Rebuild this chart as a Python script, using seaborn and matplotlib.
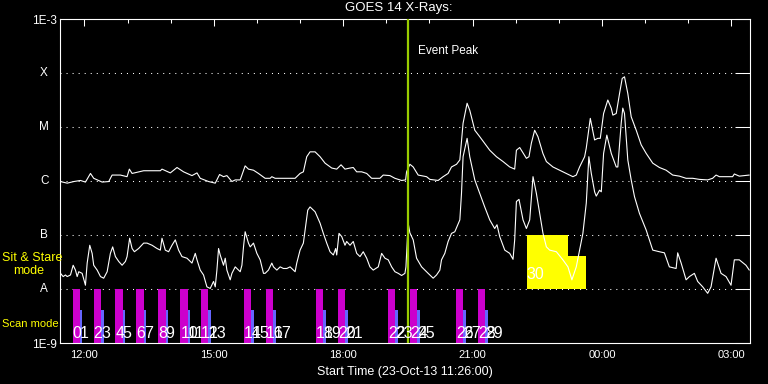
import numpy as np
import pandas as pd
import matplotlib
matplotlib.use("Agg")
import matplotlib.pyplot as plt
import matplotlib.dates as mdates
import matplotlib.transforms as mtransforms
import seaborn as sns

start = pd.Timestamp("2013-10-23 11:26:00")
span_min = 960

# long channel (1-8 A): minutes after start, log10 flux
long_min = [0.7, 10, 19.2, 28.5, 35.4, 42.4, 46.9, 58.6, 67.8, 72.5,
            84, 93.3, 96.5, 100.3, 116.4, 139.6, 141.9, 153.5, 162.8, 171.9,
            183.6, 190.6, 195.1, 206.7, 216, 222, 227.5, 232.2, 239.2, 243.8,
            250.7, 257.6, 262.2, 269.2, 276.1, 285.4, 292.4, 294.7, 299.3, 327.1,
            334, 338.6, 343.3, 347.9, 354.9, 361.8, 368.8, 378.1, 385, 391,
            396.5, 403.5, 408, 412.8, 419.7, 426.7, 433.6, 445.1, 449.7, 459,
            466, 475.3, 480.8, 482.2, 486.8, 491.4, 498.3, 510, 514.6, 526.1,
            533, 540, 544.7, 551.7, 556.3, 560.8, 566.4, 570.1, 577.1, 584,
            597.9, 607.2, 616.4, 625.7, 632.6, 635, 639.6, 648.9, 652.5, 655.8,
            660.4, 665, 671.9, 676.7, 685.8, 699.7, 713.6, 718.3, 722.9, 729.9,
            732.2, 737.8, 743.8, 748.3, 751.7, 756.3, 762.2, 766.9, 769.2, 773.9,
            778.5, 782.2, 785.4, 790, 794.7, 801.7, 808.6, 815.6, 824.7, 834,
            843.3, 852.5, 861.8, 871.1, 880.3, 889.6, 901.1, 908, 912.8, 917.4,
            935.8, 938.2, 945.1, 959]
long_log = [-6.01, -6.04, -6.01, -5.99, -6.02, -5.86, -5.95, -6.02, -6.01, -5.89,
            -5.89, -5.92, -5.78, -5.86, -5.81, -5.81, -5.78, -5.85, -5.75, -5.83,
            -5.90, -5.85, -5.95, -6.01, -6.04, -5.88, -5.92, -5.90, -6.01, -5.98,
            -5.98, -5.72, -5.78, -5.80, -5.86, -5.95, -5.95, -5.92, -5.95, -5.95,
            -5.86, -5.83, -5.55, -5.46, -5.46, -5.55, -5.67, -5.76, -5.78, -5.70,
            -5.78, -5.76, -5.75, -5.83, -5.83, -5.86, -5.95, -5.95, -5.89, -5.90,
            -5.95, -5.99, -5.98, -5.83, -5.69, -5.74, -5.89, -5.92, -5.97, -5.99,
            -5.92, -5.86, -5.74, -5.69, -5.61, -4.93, -4.56, -4.69, -5.06, -5.18,
            -5.43, -5.55, -5.64, -5.74, -5.78, -5.43, -5.38, -5.58, -5.55, -5.30,
            -5.06, -5.18, -5.49, -5.64, -5.74, -5.83, -5.92, -5.89, -5.74, -5.55,
            -5.39, -4.84, -5.24, -5.21, -5.21, -4.75, -4.50, -4.65, -4.78, -4.75,
            -4.38, -4.10, -4.07, -4.38, -4.81, -5.06, -5.33, -5.49, -5.67, -5.75,
            -5.80, -5.89, -5.91, -5.95, -5.95, -5.97, -5.98, -5.95, -5.89, -5.92,
            -5.92, -5.87, -5.91, -5.89]

# short channel (0.5-4 A)
short_min = [0.7, 4.4, 7.6, 10, 14.6, 18.3, 21.5, 23.9, 26.1, 30.8,
             35.4, 37.8, 41.4, 44.7, 46.9, 51.7, 56.3, 60.8, 65.6, 70.1,
             73.3, 77.1, 81.7, 86.4, 91, 93.3, 96.9, 100.3, 103.5, 109.4,
             116.4, 121.1, 128.1, 135, 139.6, 141.9, 146.5, 151.1, 155.8, 160.4,
             165, 169.7, 176.7, 183.6, 188.2, 190.6, 195.1, 199.7, 204.4, 209,
             213.6, 216, 218.3, 220.6, 222.9, 227.5, 229.9, 232.2, 236.8, 239.2,
             243.8, 250.7, 253.1, 255.3, 257.6, 262.2, 264.6, 269.2, 273.9, 278.5,
             283.1, 285.4, 290, 294.7, 297, 301.7, 306.3, 310.8, 315.6, 320.1,
             327.1, 329.4, 334, 338.6, 341, 344.7, 347.9, 354.9, 361.8, 366.4,
             371.1, 375.7, 380.3, 383.6, 385, 388.2, 392, 396.5, 398.9, 403.5,
             408, 412.8, 417.4, 421.9, 426.7, 431.2, 435.8, 442.8, 447.5, 452.1,
             456.7, 461.4, 466, 470.6, 475.3, 479.9, 481.3, 484.4, 486.8, 491.4,
             496.1, 503.1, 507.6, 512.2, 519.2, 523.9, 528.5, 530.8, 535.4, 540,
             544.7, 549.3, 556.3, 558.6, 560.8, 566.4, 570.1, 577.1, 584, 590.9,
             597.9, 604.8, 608, 611.8, 618.8, 625.7, 630.3, 632.6, 635, 638.6,
             644.2, 648.9, 653.5, 658.1, 662.8, 667.4, 672, 676.7, 681.3, 690.6,
             699.7, 706.7, 712.2, 718.3, 722.9, 727.5, 732.2, 735.8, 739.2, 743.8,
             746.1, 750.7, 753.1, 756.3, 760.8, 767, 773.9, 776.1, 780.8, 783,
             785.4, 790, 794.7, 799.3, 806.2, 815.6, 824.7, 834, 840.9, 847.8,
             857.2, 859.4, 864.2, 871.1, 875.7, 882.6, 887.2, 894.2, 901.1, 905.8,
             912.8, 919.7, 926.7, 933.6, 938.2, 945.1, 954.4, 959]
short_log = [-7.71, -7.77, -7.74, -7.77, -7.74, -7.56, -7.65, -7.77, -7.68, -7.71,
             -7.93, -7.52, -7.19, -7.34, -7.56, -7.65, -7.77, -7.80, -7.68, -7.34,
             -7.22, -7.40, -7.49, -7.56, -7.49, -7.40, -7.06, -7.25, -7.31, -7.25,
             -7.15, -7.15, -7.19, -7.25, -7.28, -7.06, -7.28, -7.31, -7.19, -7.09,
             -7.28, -7.40, -7.43, -7.52, -7.34, -7.46, -7.65, -7.74, -7.96, -7.99,
             -7.86, -7.96, -7.65, -7.25, -7.37, -7.56, -7.43, -7.65, -7.83, -7.71,
             -7.59, -7.68, -7.56, -7.22, -6.94, -7.15, -7.22, -7.15, -7.34, -7.46,
             -7.71, -7.71, -7.65, -7.52, -7.59, -7.65, -7.59, -7.62, -7.62, -7.59,
             -7.68, -7.52, -7.28, -7.15, -6.91, -6.54, -6.48, -6.57, -6.78, -6.97,
             -7.15, -7.31, -7.37, -7.25, -7.37, -6.97, -7.03, -7.19, -7.12, -7.19,
             -7.12, -7.34, -7.40, -7.31, -7.43, -7.59, -7.65, -7.59, -7.34, -7.43,
             -7.46, -7.59, -7.68, -7.71, -7.75, -7.71, -7.59, -6.78, -6.96, -7.09,
             -7.43, -7.59, -7.65, -7.71, -7.80, -7.74, -7.65, -7.46, -7.34, -7.12,
             -6.97, -6.94, -6.72, -6.23, -5.55, -5.21, -5.55, -5.98, -6.23, -6.48,
             -6.72, -6.88, -6.81, -7.03, -7.28, -7.34, -7.45, -7.09, -6.38, -6.34,
             -6.72, -6.88, -6.72, -5.92, -6.23, -6.60, -6.97, -7.22, -7.28, -7.31,
             -7.46, -7.59, -7.83, -7.59, -7.28, -6.97, -6.41, -5.55, -5.86, -6.20,
             -6.28, -6.17, -6.20, -5.49, -5.15, -5.49, -5.74, -5.74, -4.93, -4.65,
             -4.75, -5.61, -5.98, -6.29, -6.60, -6.91, -7.28, -7.31, -7.33, -7.59,
             -7.62, -7.33, -7.52, -7.83, -7.77, -7.71, -7.86, -7.96, -8.08, -7.96,
             -7.43, -7.71, -7.77, -7.93, -7.46, -7.46, -7.56, -7.65]

# scan mode pairs: minutes after start
scan_min = [17.4, 46.9, 77.1, 106.3, 136.8, 167.4, 196.5, 256.3,
            286.8, 356.3, 386.8, 456.3, 486.8, 550.7, 581.3]
scan_len = 10.1
dwell_len = 3.8
scan_top = 1e-8
dwell_top = 4.1e-9

# sit & stare windows
stare_start = [649.3, 706.2]
stare_end = [706.2, 731.3]
stare_top = [1e-7, 4.1e-8]
stare_label = "30"

event_min = 484
levels = [1e-8, 1e-7, 1e-6, 1e-5, 1e-4]
class_names = ["A", "B", "C", "M", "X"]


def to_time(mins):
    return start + pd.to_timedelta(np.array(mins, dtype=float), unit="min")


sns.set_style("dark", rc={"axes.facecolor": "black", "figure.facecolor": "black",
                          "axes.edgecolor": "white", "text.color": "white",
                          "xtick.color": "white", "ytick.color": "white",
                          "axes.labelcolor": "white", "axes.grid": False})
plt.rcParams["font.family"] = ["Liberation Sans", "DejaVu Sans"]
plt.rcParams["lines.scale_dashes"] = False

fig = plt.figure(figsize=(7.68, 3.84), dpi=100)
ax = fig.add_axes([60 / 768, 41 / 384, 690 / 768, 324 / 384])
ax.set_yscale("log")

long_df = pd.DataFrame({"time": to_time(long_min), "flux": 10 ** np.array(long_log)})
short_df = pd.DataFrame({"time": to_time(short_min), "flux": 10 ** np.array(short_log)})

for lv in levels:
    ax.axhline(lv, color="white", lw=0.75, dashes=(0.75, 3.6), zorder=1)

# sit & stare boxes
st = to_time(stare_start)
sw = to_time(stare_end) - st
ax.bar(st, np.array(stare_top) - 1e-8, width=sw, bottom=1e-8, align="edge",
       color="#ffff00", edgecolor="none", linewidth=0, zorder=2)

# scan bars
sc = to_time(scan_min)
ax.bar(sc, [scan_top - 1e-9] * len(sc), width=pd.Timedelta(minutes=scan_len),
       bottom=1e-9, align="edge", color="#cc00cc", edgecolor="none", linewidth=0,
       zorder=2)
dw = sc + pd.Timedelta(minutes=scan_len)
ax.bar(dw, [dwell_top - 1e-9] * len(dw), width=pd.Timedelta(minutes=dwell_len),
       bottom=1e-9, align="edge", color="#6666ff", edgecolor="none", linewidth=0,
       zorder=2)

sns.lineplot(data=long_df, x="time", y="flux", color="white", lw=0.8,
             estimator=None, sort=False, ax=ax, zorder=3)
sns.lineplot(data=short_df, x="time", y="flux", color="white", lw=0.8,
             estimator=None, sort=False, ax=ax, zorder=3)

ev = start + pd.Timedelta(minutes=event_min)
ax.axvline(ev, color="#99cc00", lw=1.6, zorder=5)
ax.text(mdates.date2num(ev + pd.Timedelta(minutes=14)), 2.6e-4, "Event Peak",
        fontsize=8.5, color="white", va="center", ha="left")

trans = mtransforms.blended_transform_factory(ax.transData, ax.transAxes)
for i, (a, b) in enumerate(zip(sc, dw)):
    ax.text(mdates.date2num(a), 0.016, str(2 * i), transform=trans, fontsize=11.5,
            color="white", ha="left", va="baseline", zorder=6)
    ax.text(mdates.date2num(b), 0.016, str(2 * i + 1), transform=trans, fontsize=11.5,
            color="white", ha="left", va="baseline", zorder=6)
ax.text(mdates.date2num(st[0]), 0.197, stare_label, transform=trans, fontsize=11.5,
        color="white", ha="left", va="baseline", zorder=6)

ax.set_xlim(start, start + pd.Timedelta(minutes=span_min))
ax.set_ylim(1e-9, 1e-3)
ax.xaxis.set_major_locator(mdates.HourLocator(byhour=range(0, 24, 3)))
ax.xaxis.set_minor_locator(mdates.HourLocator())
ax.xaxis.set_major_formatter(mdates.DateFormatter("%H:%M"))
ax.set_yticks([1e-9, 1e-8, 1e-7, 1e-6, 1e-5, 1e-4, 1e-3])
ax.set_yticklabels(["1E-9", "", "", "", "", "", "1E-3"])
ax.yaxis.set_minor_locator(matplotlib.ticker.NullLocator())
ax.tick_params(axis="x", which="major", direction="in", length=5, width=0.75,
               top=True, labelsize=8, pad=5)
ax.tick_params(axis="x", which="minor", direction="in", length=3, width=0.75, top=True)
ax.tick_params(axis="y", which="major", direction="in", length=10.8, width=0.75,
               right=True, labelsize=8.5, pad=2)
for s in ax.spines.values():
    s.set_color("white")
    s.set_linewidth(0.8)

ytr = ax.get_yaxis_transform()
for lv, nm in zip(levels, class_names):
    ax.text(-0.023, lv, nm, transform=ytr, fontsize=8.5, color="white",
            ha="center", va="center")

ax.set_xlabel("Start Time (23-Oct-13 11:26:00)", fontsize=9, labelpad=4)
ax.set_ylabel("")
fig.text(399 / 768, 1 - 8 / 384, "GOES 14 X-Rays:", fontsize=9.5, color="white",
         ha="center", va="center")
fig.text(2 / 768, 1 - 258 / 384, "Sit & Stare", fontsize=9, color="#ffff00",
         ha="left", va="center")
fig.text(13 / 768, 1 - 271 / 384, "mode", fontsize=9, color="#ffff00",
         ha="left", va="center")
fig.text(2 / 768, 1 - 324 / 384, "Scan mode", fontsize=8, color="#ffff00",
         ha="left", va="center")

fig.savefig("out.png", dpi=100, facecolor="black")
